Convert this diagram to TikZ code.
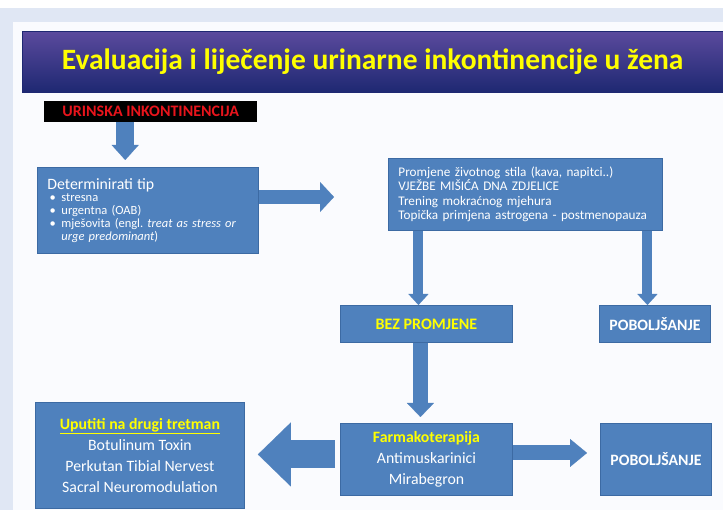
\documentclass[tikz,border=0pt]{standalone}
\usepackage{fontspec}
\setmainfont{Carlito}
\usetikzlibrary{arrows.meta}
\definecolor{slideblue}{HTML}{4F81BD}
\definecolor{slideedge}{HTML}{3C6AA3}
\definecolor{titletop}{HTML}{5B4A9D}
\definecolor{titlebot}{HTML}{1E2872}
\definecolor{titleyellow}{HTML}{FFFF00}
\definecolor{pagegrey}{HTML}{E0E7F4}
\definecolor{slidewhite}{HTML}{FAFBFE}
\definecolor{alarmred}{HTML}{E8141C}

\begin{document}
\frenchspacing
\begin{tikzpicture}[x=1pt,y=-1pt]
  \tikzstyle{every node}=[inner sep=0pt, text=white]
  \tikzstyle{box}=[draw=slideedge, line width=0.9pt, fill=slideblue, anchor=north west]
  \tikzstyle{blockarrow}=[draw=slideblue]
  \fill[white] (0,0) rectangle (723,510);
  \useasboundingbox (0,0) rectangle (723,510);
  \fill[pagegrey] (0,8) rectangle (723,510);
  \fill[slidewhite] (13,22) rectangle (723,510);
  \node[anchor=north west, top color=titletop, bottom color=titlebot, draw=titlebot,
    minimum width=701pt, minimum height=61pt, text=titleyellow,
    font=\fontsize{29.5}{33}\selectfont\bfseries] (title) at (22,31)
    {Evaluacija i liječenje urinarne inkontinencije u žena};
  \node[anchor=north west, fill=black, minimum width=213pt, minimum height=21pt, text=alarmred,
    font=\fontsize{16}{18}\selectfont\bfseries] (urinska) at (44,101)
    {URINSKA INKONTINENCIJA};
  \node[box, minimum width=221pt, minimum height=86pt, text width=201pt, inner xsep=10pt, align=left,
    font=\fontsize{12.5}{13}\selectfont] (tip) at (37,167)
    {{\fontsize{15.8}{17}\selectfont Determinirati tip}\\[-1pt]
     \makebox[14pt][l]{\,•}stresna\\
     \makebox[14pt][l]{\,•}urgentna (OAB)\\
     \makebox[14pt][l]{\,•}mješovita (engl. \textit{treat as stress or}\\
     \hspace*{14pt}\textit{urge predominant})};
  \node[box, minimum width=274pt, minimum height=72pt, text width=254pt, inner xsep=10pt, align=left,
    font=\fontsize{13.2}{14.5}\selectfont] (stil) at (388,158)
    {Promjene životnog stila (kava, napitci..)\\
     VJEŽBE MIŠIĆA DNA ZDJELICE\\
     Trening mokraćnog mjehura\\
     Topička primjena astrogena - postmenopauza};
  \node[box, minimum width=172pt, minimum height=37pt, text=titleyellow,
    font=\fontsize{16}{18}\selectfont\bfseries] (bez) at (340,305)
    {BEZ PROMJENE};
  \node[box, minimum width=111pt, minimum height=37pt,
    font=\fontsize{15.8}{18}\selectfont\bfseries] (bolje1) at (599,305)
    {POBOLJŠANJE};
  \node[box, minimum width=172pt, minimum height=72pt, align=center,
    font=\fontsize{15.8}{21}\selectfont] (farmako) at (340,423)
    {\textcolor{titleyellow}{\bfseries Farmakoterapija}\\ Antimuskarinici\\ Mirabegron};
  \node[box, minimum width=111pt, minimum height=72pt,
    font=\fontsize{15.8}{18}\selectfont\bfseries] (bolje2) at (600,423)
    {POBOLJŠANJE};
  \node[box, minimum width=209pt, minimum height=106pt, align=center,
    font=\fontsize{15.8}{21}\selectfont] (tretman) at (35,402)
    {\textcolor{titleyellow}{\bfseries\underline{Uputiti na drugi tretman}}\\
     Botulinum Toxin\\ Perkutan Tibial Nervest\\ Sacral Neuromodulation};
  \coordinate (tipend) at (334,197);
  \path (urinska.south) ++(-25.5,0) coordinate (urout);
  \path (bez.north) ++(-8,0) coordinate (bezin);
  \path (bolje1.north) ++(-7.5,0) coordinate (boljein);
  \path (bez.south) ++(-6,0) coordinate (bezout);
  \path (farmako.east) ++(0,-6.5) coordinate (farmr);
  \path (farmako.west) ++(0,-5) coordinate (farml);
  \draw[blockarrow, line width=18pt, -{Triangle[width=27pt, length=15pt, line width=0.1pt]}, shorten >=7pt]
    (urout) -- (urout |- tip.north);
  \draw[blockarrow, line width=14pt, -{Triangle[width=30pt, length=14pt, line width=0.1pt]}]
    (tip.east |- tipend) -- (tipend);
  \draw[blockarrow, line width=10pt, -{Triangle[width=20pt, length=11pt, line width=0.1pt]}]
    (bezin |- stil.south) -- (bezin);
  \draw[blockarrow, line width=10pt, -{Triangle[width=20pt, length=11pt, line width=0.1pt]}]
    (boljein |- stil.south) -- (boljein);
  \draw[blockarrow, line width=15pt, -{Triangle[width=27pt, length=14pt, line width=0.1pt]}, shorten >=6pt]
    (bezout) -- (bezout |- farmako.north);
  \draw[blockarrow, line width=15pt, -{Triangle[width=28pt, length=17pt, line width=0.1pt]}, shorten >=13pt]
    (farmr) -- (farmr -| bolje2.west);
  \draw[blockarrow, line width=28pt, -{Triangle[width=64pt, length=33pt, line width=0.1pt]}, shorten <=5pt, shorten >=13pt]
    (farml) -- (farml -| tretman.east);
\end{tikzpicture}
\end{document}
